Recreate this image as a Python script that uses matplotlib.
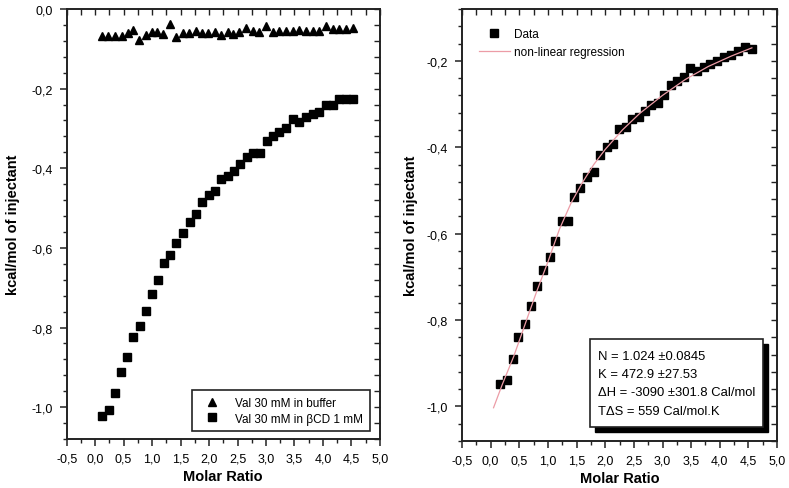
import matplotlib
matplotlib.use('Agg')
import matplotlib.pyplot as plt
from matplotlib.ticker import MultipleLocator, FuncFormatter
from matplotlib.patches import Rectangle

plt.rcParams['font.family'] = ['Liberation Sans', 'DejaVu Sans']

# Left panel: Val 30 mM in buffer (triangles)
buf_x = [0.114, 0.231, 0.348, 0.465, 0.582, 0.670, 0.775, 0.886, 0.991, 1.091,
         1.196, 1.313, 1.419, 1.536, 1.653, 1.770, 1.869, 1.986, 2.103, 2.209,
         2.326, 2.425, 2.530, 2.647, 2.764, 2.881, 2.998, 3.115, 3.232, 3.349,
         3.466, 3.583, 3.700, 3.817, 3.934, 4.051, 4.168, 4.285, 4.403, 4.531]
buf_y = [-0.067, -0.067, -0.067, -0.067, -0.061, -0.052, -0.077, -0.065, -0.059, -0.059,
         -0.063, -0.038, -0.071, -0.061, -0.061, -0.055, -0.061, -0.061, -0.059, -0.065,
         -0.059, -0.063, -0.059, -0.048, -0.055, -0.059, -0.044, -0.059, -0.056, -0.056,
         -0.056, -0.053, -0.056, -0.055, -0.055, -0.044, -0.050, -0.050, -0.050, -0.049]

# Left panel: Val 30 mM in bCD 1 mM (squares)
cd_x = [0.125, 0.243, 0.348, 0.453, 0.558, 0.669, 0.781, 0.887, 0.992, 1.108,
        1.208, 1.313, 1.419, 1.536, 1.664, 1.770, 1.875, 1.993, 2.108, 2.214,
        2.331, 2.437, 2.542, 2.660, 2.775, 2.893, 3.011, 3.116, 3.232, 3.349,
        3.467, 3.583, 3.700, 3.818, 3.934, 4.052, 4.169, 4.285, 4.403, 4.531]
cd_y = [-1.021, -1.008, -0.964, -0.912, -0.875, -0.824, -0.797, -0.759, -0.715, -0.680,
        -0.639, -0.619, -0.589, -0.562, -0.535, -0.516, -0.486, -0.468, -0.458, -0.428,
        -0.419, -0.408, -0.390, -0.373, -0.362, -0.361, -0.331, -0.319, -0.308, -0.298,
        -0.277, -0.284, -0.272, -0.264, -0.258, -0.242, -0.242, -0.226, -0.226, -0.226]

# Right panel: data (squares)
data_x = [0.164, 0.281, 0.385, 0.483, 0.595, 0.705, 0.810, 0.920, 1.031, 1.127,
          1.251, 1.351, 1.450, 1.566, 1.688, 1.805, 1.910, 2.027, 2.131, 2.236,
          2.364, 2.474, 2.585, 2.695, 2.805, 2.917, 3.032, 3.144, 3.254, 3.371,
          3.486, 3.609, 3.726, 3.830, 3.947, 4.075, 4.197, 4.314, 4.441, 4.558]
data_y = [-0.949, -0.939, -0.891, -0.840, -0.810, -0.767, -0.721, -0.684, -0.653, -0.617,
          -0.571, -0.571, -0.515, -0.495, -0.468, -0.458, -0.418, -0.400, -0.393, -0.358,
          -0.354, -0.334, -0.329, -0.317, -0.303, -0.298, -0.280, -0.257, -0.247, -0.237,
          -0.216, -0.224, -0.215, -0.207, -0.201, -0.191, -0.187, -0.177, -0.167, -0.172]

# Right panel: non-linear regression curve
fit_x = [0.05, 0.2, 0.4, 0.6, 0.8, 1.0, 1.2, 1.4, 1.6, 1.8,
         2.0, 2.3, 2.6, 3.0, 3.4, 3.8, 4.2, 4.56]
fit_y = [-1.003, -0.950, -0.885, -0.810, -0.735, -0.665, -0.590, -0.530, -0.482, -0.440,
         -0.405, -0.360, -0.322, -0.280, -0.243, -0.213, -0.189, -0.170]

fit_lines = ['N = 1.024 \u00b10.0845',
             'K = 472.9 \u00b127.53',
             '\u0394H = -3090 \u00b1301.8 Cal/mol',
             'T\u0394S = 559 Cal/mol.K']

comma = FuncFormatter(lambda v, p: f"{v:.1f}".replace('.', ','))


def style_axes(ax, ylim, ylabelpad):
    ax.set_xlim(-0.5, 5.0)
    ax.set_ylim(*ylim)
    ax.xaxis.set_major_locator(MultipleLocator(0.5))
    ax.xaxis.set_minor_locator(MultipleLocator(0.25))
    ax.yaxis.set_major_locator(MultipleLocator(0.2))
    ax.yaxis.set_minor_locator(MultipleLocator(0.04))
    ax.xaxis.set_major_formatter(comma)
    ax.yaxis.set_major_formatter(comma)
    ax.tick_params(which='major', direction='out', length=5, width=1.1,
                   labelsize=9, pad=5, color='#222222')
    ax.tick_params(which='minor', direction='out', length=3, width=1.0, color='#222222')
    ax.tick_params(axis='y', which='major', pad=5)
    for s in ax.spines.values():
        s.set_linewidth(1.4)
        s.set_color('#222222')
    # inward ticks on top and right
    top = ax.secondary_xaxis('top')
    top.xaxis.set_major_locator(MultipleLocator(0.25))
    top.tick_params(direction='in', length=4, width=1.0, labeltop=False, color='#222222')
    top.spines['top'].set_visible(False)
    right = ax.secondary_yaxis('right')
    right.yaxis.set_major_locator(MultipleLocator(0.04))
    right.tick_params(direction='in', length=4, width=1.0, labelright=False, color='#222222')
    right.spines['right'].set_visible(False)
    ax.set_xlabel('Molar Ratio', fontsize=10.5, fontweight='bold', labelpad=3)
    ax.set_ylabel('kcal/mol of injectant', fontsize=10.5, fontweight='bold', labelpad=ylabelpad)


fig = plt.figure(figsize=(7.89, 4.89), dpi=100)
ax1 = fig.add_axes([0.0845, 0.1002, 0.397, 0.8794])
ax2 = fig.add_axes([0.5856, 0.0961, 0.3993, 0.8835])

# Left panel
ax1.plot(buf_x, buf_y, linestyle='none', marker='^', color='black', markersize=5.4,
         label='Val 30 mM in buffer')
ax1.plot(cd_x, cd_y, linestyle='none', marker='s', color='black', markersize=5.8,
         label='Val 30 mM in \u03b2CD 1 mM')
style_axes(ax1, (-1.08, 0.0), 8)
leg1 = ax1.legend(loc='lower right', bbox_to_anchor=(0.968, 0.0186), borderaxespad=0,
                  fontsize=8.5, handlelength=2.3, handletextpad=0.8, labelspacing=0.3,
                  borderpad=0.55, fancybox=False, framealpha=1)
leg1.get_frame().set_edgecolor('#222222')
leg1.get_frame().set_linewidth(1.2)

# Right panel
ax2.plot(fit_x, fit_y, color='#ec9ca6', linewidth=0.9, label='non-linear regression', zorder=3)
ax2.plot(data_x, data_y, linestyle='none', marker='s', color='black', markersize=5.8,
         label='Data', zorder=2)
style_axes(ax2, (-1.08, -0.08), 6)
h, l = ax2.get_legend_handles_labels()
ax2.legend([h[1], h[0]], [l[1], l[0]], loc='upper left', bbox_to_anchor=(0.054, 0.956),
           borderaxespad=0, borderpad=0, frameon=False, fontsize=8.5,
           handlelength=2.6, handletextpad=0.35, labelspacing=0.5)

# fit results box with shadow
ax2.add_patch(Rectangle((0.422, 0.020), 0.550, 0.204, transform=ax2.transAxes,
                        facecolor='black', edgecolor='black', zorder=4))
ax2.add_patch(Rectangle((0.406, 0.032), 0.550, 0.204, transform=ax2.transAxes,
                        facecolor='white', edgecolor='#222222', linewidth=1.2, zorder=5))
for ty, line in zip([0.197, 0.155, 0.114, 0.070], fit_lines):
    ax2.text(0.433, ty, line, transform=ax2.transAxes, fontsize=9.4, va='center',
             ha='left', zorder=6)

fig.savefig('out.png', dpi=100)
